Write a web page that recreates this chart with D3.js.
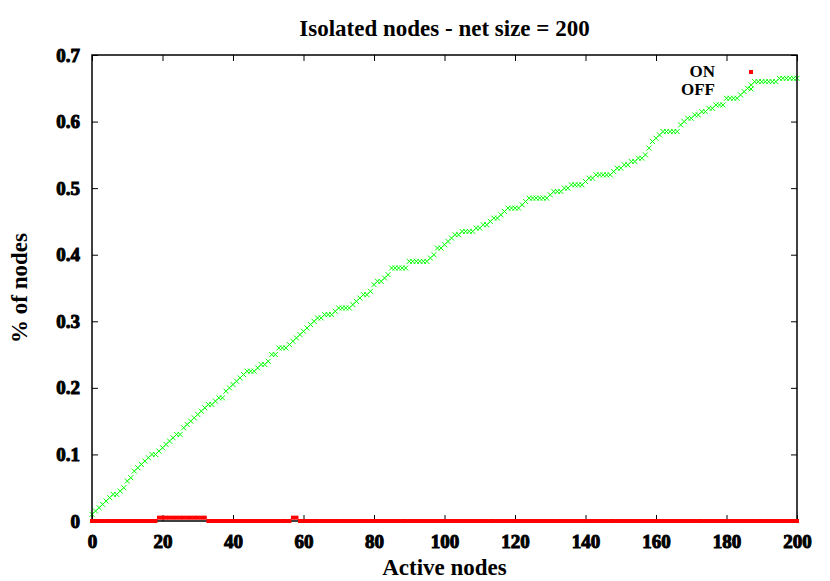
<!DOCTYPE html>
<meta charset="utf-8">
<style>
body { margin: 0; background: #fff; }
text { font-family: "Liberation Serif", "Times New Roman", serif; font-weight: bold; fill: #000; }
.frame { fill: none; stroke: #000; stroke-width: 1.5; }
.tick { stroke: #000; stroke-width: 1; }
.off { stroke: #00ff00; stroke-width: 1; fill: none; }
.on { fill: #ff0000; }
</style>
<body>
<script src="https://d3js.org/d3.v7.min.js"></script>
<script>

// isolated fraction, OFF series (one value per active-node count 0..200)
var offValues = [
  .010,.015,.020,.025,.030,.035,.040,.040,.045,.050,
  .060,.065,.075,.080,.085,.090,.095,.100,.100,.105,
  .110,.115,.120,.125,.130,.130,.140,.145,.150,.155,
  .160,.165,.170,.175,.175,.180,.185,.185,.195,.200,
  .205,.210,.215,.220,.225,.225,.225,.230,.235,.235,
  .240,.250,.250,.260,.260,.260,.265,.270,.275,.280,
  .285,.290,.295,.300,.305,.305,.310,.310,.310,.315,
  .320,.320,.320,.320,.325,.330,.335,.340,.340,.345,
  .355,.360,.360,.365,.370,.380,.380,.380,.380,.380,
  .390,.390,.390,.390,.390,.390,.395,.400,.410,.410,
  .415,.420,.425,.430,.430,.435,.435,.435,.435,.440,
  .440,.445,.445,.450,.455,.455,.460,.465,.470,.470,
  .470,.470,.475,.480,.485,.485,.485,.485,.485,.485,
  .490,.495,.495,.495,.500,.500,.505,.505,.505,.505,
  .510,.515,.515,.520,.520,.520,.520,.520,.525,.530,
  .530,.535,.535,.540,.540,.545,.545,.550,.560,.570,
  .575,.580,.585,.585,.585,.585,.585,.595,.600,.605,
  .605,.610,.610,.615,.615,.620,.620,.625,.625,.625,
  .635,.635,.635,.635,.640,.645,.650,.655,.660,.660,
  .660,.660,.660,.660,.660,.665,.665,.665,.665,.665,
  .665
];

// ON series
var onValues = [
  0,0,0,0,0,0,0,0,0,0,
  0,0,0,0,0,0,0,0,0,.005,
  .005,.005,.005,.005,.005,.005,.005,.005,.005,.005,
  .005,.005,.005,0,0,0,0,0,0,0,
  0,0,0,0,0,0,0,0,0,0,
  0,0,0,0,0,0,0,.005,.005,0,
  0,0,0,0,0,0,0,0,0,0,
  0,0,0,0,0,0,0,0,0,0,
  0,0,0,0,0,0,0,0,0,0,
  0,0,0,0,0,0,0,0,0,0,
  0,0,0,0,0,0,0,0,0,0,
  0,0,0,0,0,0,0,0,0,0,
  0,0,0,0,0,0,0,0,0,0,
  0,0,0,0,0,0,0,0,0,0,
  0,0,0,0,0,0,0,0,0,0,
  0,0,0,0,0,0,0,0,0,0,
  0,0,0,0,0,0,0,0,0,0,
  0,0,0,0,0,0,0,0,0,0,
  0,0,0,0,0,0,0,0,0,0,
  0,0,0,0,0,0,0,0,0,0,
  0
];

var xTicks = [0, 20, 40, 60, 80, 100, 120, 140, 160, 180, 200];
var yTicks = [0, 0.1, 0.2, 0.3, 0.4, 0.5, 0.6, 0.7];
var seriesNames = ["ON", "OFF"];

var margin = {top: 55, right: 33, bottom: 60, left: 92},
    width = 830 - margin.left - margin.right,
    height = 581 - margin.top - margin.bottom;

var x = d3.scaleLinear().domain([0, 200]).range([0, width]);
var y = d3.scaleLinear().domain([0, 0.7]).range([height, 0]);

var svg = d3.select("body").append("svg")
    .attr("width", 830)
    .attr("height", 581);

var g = svg.append("g")
    .attr("transform", "translate(" + margin.left + "," + margin.top + ")");

// title + axis labels
svg.append("text")
    .attr("x", margin.left + width / 2)
    .attr("y", 36)
    .attr("text-anchor", "middle")
    .style("font-size", "23px")
    .text("Isolated nodes - net size = 200");

svg.append("text")
    .attr("x", margin.left + width / 2)
    .attr("y", 575)
    .attr("text-anchor", "middle")
    .style("font-size", "23px")
    .text("Active nodes");

svg.append("text")
    .attr("transform", "translate(27," + (margin.top + height / 2) + ") rotate(-90)")
    .attr("text-anchor", "middle")
    .style("font-size", "23px")
    .text("% of nodes");

// axes (gnuplot style: inward ticks, mirrored)
var xAxis = d3.axisBottom(x).tickValues(xTicks).tickSize(-6).tickPadding(14);
var yAxis = d3.axisLeft(y).tickValues(yTicks).tickSize(-6).tickPadding(12)
    .tickFormat(function(d) { return d === 0 ? "0" : d3.format(".1f")(d); });

var gx = g.append("g")
    .attr("transform", "translate(0," + height + ")")
    .call(xAxis);
var gy = g.append("g").call(yAxis);

g.append("g").call(d3.axisTop(x).tickValues(xTicks).tickSize(-6).tickFormat(""));
g.append("g").attr("transform", "translate(" + width + ",0)")
    .call(d3.axisRight(y).tickValues(yTicks).tickSize(-6).tickFormat(""));

g.selectAll(".domain").remove();
g.selectAll(".tick line").attr("class", "tick").attr("stroke", "#000");
g.selectAll(".tick text")
    .style("font-size", "19px")
    .style("font-family", "Liberation Serif, serif")
    .style("font-weight", "bold")
    .attr("fill", "#000");
gx.selectAll(".tick text").attr("dy", "0.66em");

// OFF points (x marks)
var s = 2.5;
g.append("g").selectAll("path")
    .data(offValues)
  .enter().append("path")
    .attr("class", "off")
    .attr("d", function(d, i) {
      var cx = x(i), cy = y(d);
      return "M" + (cx - s) + "," + (cy - s) + "L" + (cx + s) + "," + (cy + s) +
             "M" + (cx - s) + "," + (cy + s) + "L" + (cx + s) + "," + (cy - s);
    });

g.append("rect")
    .attr("class", "frame")
    .attr("width", width)
    .attr("height", height);

// ON points (small squares)
g.append("g").selectAll("rect")
    .data(onValues)
  .enter().append("rect")
    .attr("class", "on")
    .attr("x", function(d, i) { return x(i) - 2; })
    .attr("y", function(d) { return y(d) - 2; })
    .attr("width", 4)
    .attr("height", 4);

// legend
var legend = svg.append("g");
legend.selectAll("text")
    .data(seriesNames)
  .enter().append("text")
    .attr("x", 715)
    .attr("y", function(d, i) { return 77 + i * 18; })
    .attr("text-anchor", "end")
    .style("font-size", "17px")
    .text(function(d) { return d; });

legend.append("rect")
    .attr("class", "on")
    .attr("x", 749)
    .attr("y", 70)
    .attr("width", 4)
    .attr("height", 4);
legend.append("path")
    .attr("class", "off")
    .attr("d", "M748.5,86.5L753.5,91.5M748.5,91.5L753.5,86.5");

</script>
</body>
